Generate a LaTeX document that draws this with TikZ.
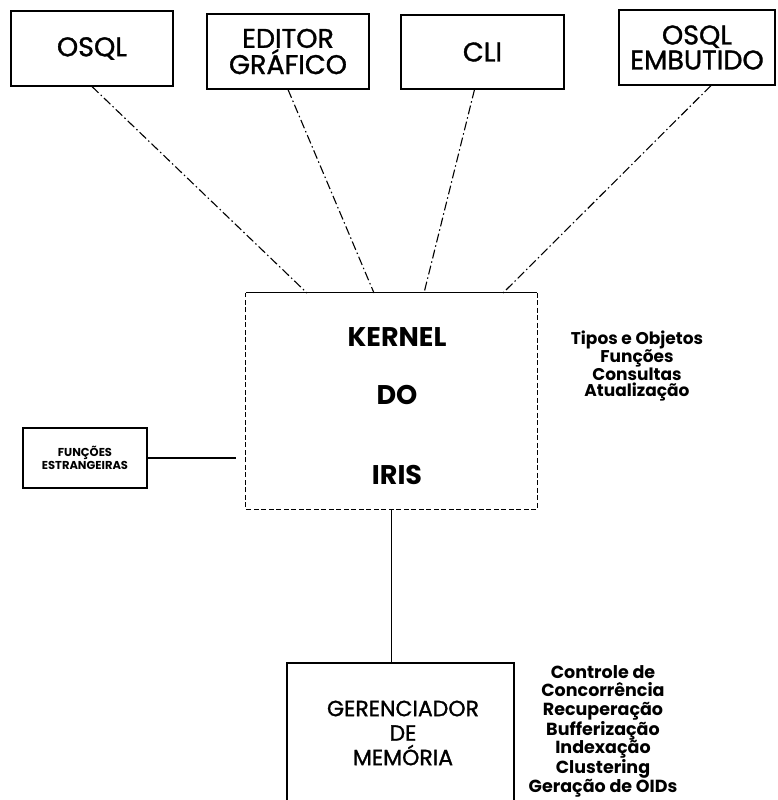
\documentclass[tikz,border=0pt]{standalone}
\usepackage{fontspec}
\setmainfont{Poppins}
\newfontfamily\medfont[FakeBold=1.2]{Poppins}
\usetikzlibrary{calc}
\tikzset{
  topbox/.style={draw, line width=1.1pt, minimum width=162pt, minimum height=75pt, inner sep=0pt, align=center, font=\medfont\fontsize{27}{25}\selectfont},
  dashdot/.style={line width=1.1pt, dash pattern=on 9pt off 3pt on 1.5pt off 3pt},
  plain/.style={line width=1.1pt},
  kdash/.style={line width=1.2pt, dash pattern=on 5pt off 2.5pt},
  ktext/.style={font=\fontsize{27}{27}\selectfont\bfseries, inner sep=0pt},
  listtext/.style={align=center, inner sep=0pt},
}
\begin{document}
\begin{tikzpicture}[x=1pt,y=-1pt]
\useasboundingbox (0,0) rectangle (778,800);
\clip (0,0) rectangle (778,800);
\fill[white] (0,0) rectangle (778,800);
% top boxes
\node[topbox] (osql) at (92,48.5) {OSQL};
\node[topbox] (editor) at (288,51.5) {EDITOR\\GRÁFICO};
\node[topbox, minimum width=163pt, minimum height=74pt] (cli) at (482.5,52) {CLI};
\node[topbox, minimum width=156pt] (emb) at (697,47.5) {OSQL\\EMBUTIDO};
% kernel
\node[minimum width=291pt, minimum height=216pt, inner sep=0pt] (kernel) at (391.5,401) {};
\draw[plain] (kernel.north west) -- (kernel.north east);
\draw[kdash] (kernel.north east) -- (kernel.south east) -- (kernel.south west) -- (kernel.north west);
\node[ktext] (kt1) at (397,337) {KERNEL};
\node[ktext] (kt2) at (397,395) {DO};
\node[ktext] (kt3) at (397,475) {IRIS};
% connectors from top boxes
\coordinate (k1) at (307,293);
\coordinate (k2) at (374,293);
\coordinate (k3) at (424,293);
\coordinate (k4) at (503,293);
\draw[dashdot] (osql.south) -- (k1);
\draw[dashdot] (editor.south) -- (k2);
\draw[dashdot] ([xshift=-8pt]cli.south) -- (k3);
\draw[dashdot] ([xshift=14pt]emb.south) -- (k4);
% kernel features
\node[listtext, font=\fontsize{17}{16}\selectfont\bfseries] (feat) at (637,366) {Tipos e Objetos\\Funções\\Consultas\\Atualização};
% funcoes estrangeiras
\node[draw, line width=1.1pt, minimum width=124pt, minimum height=60pt, inner sep=0pt, align=center, font=\fontsize{11.5}{12.5}\selectfont\bfseries] (func) at (85,458) {FUNÇÕES\\ESTRANGEIRAS};
\coordinate (fk) at (236,458);
\draw[plain] (func.east) -- (fk);
% memory manager
\node[draw, line width=1.1pt, minimum width=227pt, minimum height=150pt, inner sep=0pt] (mem) at (400.5,738) {};
\node[listtext, font=\medfont\fontsize{22}{24.5}\selectfont] (memt) at (403,733) {GERENCIADOR\\DE\\MEMÓRIA};
\draw[plain] (kernel.south) -- (kernel.south |- mem.north);
\node[listtext, font=\fontsize{17.5}{18.6}\selectfont\bfseries] (mfeat) at (603,731) {Controle de\\Concorrência\\Recuperação\\Bufferização\\Indexação\\Clustering\\Geração de OIDs};
\end{tikzpicture}
\end{document}
